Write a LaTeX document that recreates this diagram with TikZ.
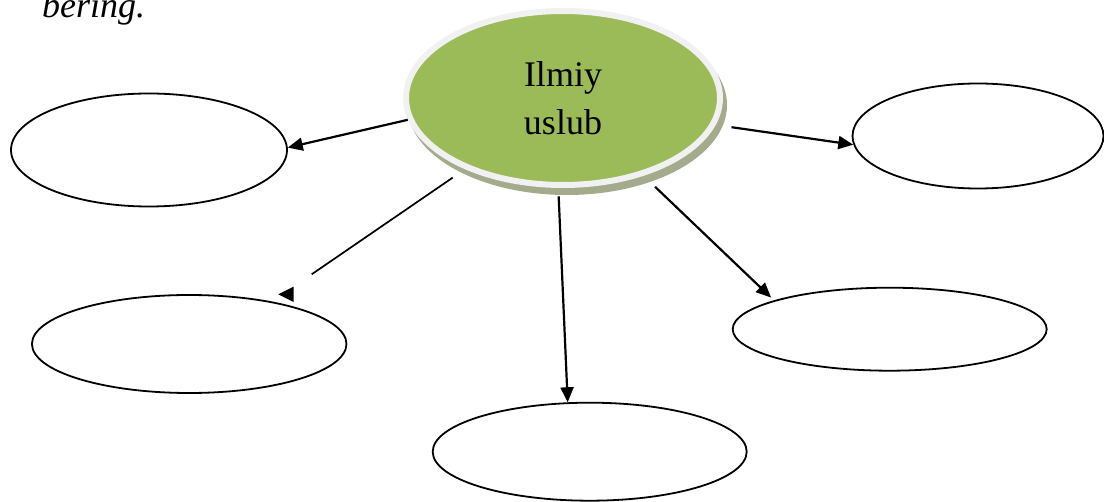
\documentclass[tikz,border=0pt]{standalone}
\usepackage{fontspec}
\setmainfont{Liberation Serif}
\usetikzlibrary{shapes.geometric,arrows.meta,backgrounds}
\definecolor{olivegreen}{RGB}{155,187,89}
\definecolor{ringgray}{RGB}{241,241,241}
\definecolor{shadowc}{RGB}{163,171,140}
\begin{document}
\begin{tikzpicture}[x=1pt,y=-1pt,
  leaf/.style={ellipse,draw=black,line width=1.8pt,inner sep=0pt},
  arr/.style={line width=2.2pt,-{Triangle[length=15pt,width=13pt]}},
  bigfont/.style={font=\fontsize{36}{48}\selectfont}]
\useasboundingbox (0,0) rectangle (1104,502);
% central node
\node[ellipse, fill=olivegreen, draw=ringgray, line width=6pt,
      minimum width=314pt, minimum height=174pt, inner sep=0pt,
      align=center, bigfont] (c) at (563,98) {Ilmiy\\uslub};
\begin{scope}[on background layer]
  \fill[shadowc] ([shift={(4,7)}]c.center) ellipse [x radius=160pt, y radius=90pt];
\end{scope}
% empty ellipses
\node[leaf, minimum width=276pt, minimum height=113pt] (L1) at (149,150) {};
\node[leaf, minimum width=251pt, minimum height=105pt] (R1) at (978,136) {};
\node[leaf, minimum width=314.5pt, minimum height=98pt] (L2) at (189.2,344) {};
\node[leaf, minimum width=314pt, minimum height=83pt] (R2) at (889.7,329.2) {};
\node[leaf, minimum width=314pt, minimum height=98pt] (B) at (589.7,451.7) {};
% text at top
\node[anchor=base west, inner sep=0pt, font=\fontsize{36}{48}\selectfont\itshape] (hint) at (42,18) {bering.};
% connectors
\draw[arr] (c.188) -- (L1.1);
\draw[arr, shorten <=16pt] (c.350) -- (R1.184.5);
\draw[arr, shorten <=8.5pt] (c.267.7) -- (B.114);
\draw[arr, shorten <=16pt, shorten >=4pt] (c.316.6) -- (R2.166.5);
\coordinate (gapend) at (311.7,274.3);
\draw[line width=1.7pt, shorten <=15pt] (c.216.2) -- (gapend);
\fill (278.3,294.3) -- (293.5,286.7) -- (293.5,302) -- cycle;
\end{tikzpicture}
\end{document}
